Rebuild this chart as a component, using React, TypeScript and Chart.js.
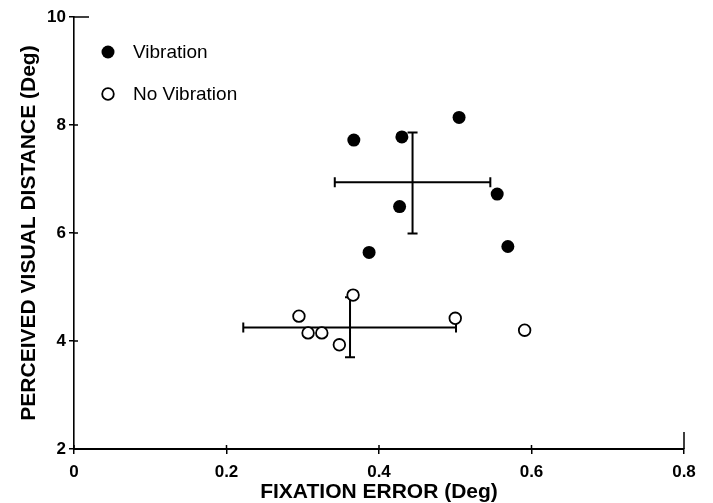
import React, { useEffect, useRef } from 'react';
import { Chart, registerables } from 'chart.js';

Chart.register(...registerables);

// ---- data ----
const seriesLabels = ['Vibration', 'No Vibration'];
const vibrationX = [0.367, 0.43, 0.505, 0.555, 0.427, 0.387, 0.569];
const vibrationY = [7.72, 7.78, 8.14, 6.72, 6.49, 5.64, 5.75];
const noVibrationX = [0.295, 0.307, 0.325, 0.348, 0.366, 0.5, 0.591];
const noVibrationY = [4.46, 4.15, 4.15, 3.93, 4.85, 4.42, 4.2];
// group means with error bars: [Vibration, No Vibration]
const meanX = [0.444, 0.362];
const meanY = [6.94, 4.25];
const xErrLow = [0.342, 0.222];
const xErrHigh = [0.546, 0.501];
const yErrLow = [5.99, 3.7];
const yErrHigh = [7.86, 4.81];
const xTickLabels = ['0', '0.2', '0.4', '0.6', '0.8'];
const yTickLabels = ['2', '4', '6', '8', '10'];
const xTitle = 'FIXATION ERROR (Deg)';
const yTitle = 'PERCEIVED VISUAL DISTANCE (Deg)';

const FONT = '"Liberation Sans", Arial, Helvetica, sans-serif';

const errorBarPlugin = {
  id: 'errorBars',
  beforeDatasetsDraw(chart: any) {
    const { ctx, scales } = chart;
    const xs = scales.x;
    const ys = scales.y;
    const cap = 5;
    ctx.save();
    ctx.strokeStyle = '#000';
    ctx.lineWidth = 2;
    for (let i = 0; i < meanX.length; i++) {
      const cx = xs.getPixelForValue(meanX[i]);
      const cy = ys.getPixelForValue(meanY[i]);
      const x1 = xs.getPixelForValue(xErrLow[i]);
      const x2 = xs.getPixelForValue(xErrHigh[i]);
      const y1 = ys.getPixelForValue(yErrLow[i]);
      const y2 = ys.getPixelForValue(yErrHigh[i]);
      ctx.beginPath();
      ctx.moveTo(x1, cy);
      ctx.lineTo(x2, cy);
      ctx.moveTo(x1, cy - cap);
      ctx.lineTo(x1, cy + cap);
      ctx.moveTo(x2, cy - cap);
      ctx.lineTo(x2, cy + cap);
      ctx.moveTo(cx, y1);
      ctx.lineTo(cx, y2);
      ctx.moveTo(cx - cap, y1);
      ctx.lineTo(cx + cap, y1);
      ctx.moveTo(cx - cap, y2);
      ctx.lineTo(cx + cap, y2);
      ctx.stroke();
    }
    ctx.restore();
  },
};

const axisExtrasPlugin = {
  id: 'axisExtras',
  afterDraw(chart: any) {
    const { ctx, scales, chartArea } = chart;
    const xs = scales.x;
    const ys = scales.y;
    ctx.save();
    ctx.strokeStyle = '#000';
    ctx.lineWidth = 1.5;
    ctx.beginPath();
    // inner halves of the tick marks
    ys.ticks.forEach((t: any) => {
      const y = ys.getPixelForValue(t.value);
      const len = t.value === ys.max ? 15 : 4;
      ctx.moveTo(chartArea.left, y);
      ctx.lineTo(chartArea.left + len, y);
    });
    xs.ticks.forEach((t: any) => {
      const x = xs.getPixelForValue(t.value);
      const len = t.value === xs.max ? 17 : 4;
      ctx.moveTo(x, chartArea.bottom);
      ctx.lineTo(x, chartArea.bottom - len);
    });
    ctx.stroke();
    ctx.restore();
  },
};

const legendPlugin = {
  id: 'insideLegend',
  afterDatasetsDraw(chart: any) {
    const { ctx, chartArea } = chart;
    const ds = chart.data.datasets;
    ctx.save();
    ctx.font = `19px ${FONT}`;
    ctx.textBaseline = 'middle';
    ctx.textAlign = 'left';
    ds.forEach((d: any, i: number) => {
      const cx = chartArea.left + 34;
      const cy = chartArea.top + 35 + i * 42;
      ctx.beginPath();
      ctx.arc(cx, cy, d.pointRadius, 0, Math.PI * 2);
      ctx.fillStyle = d.backgroundColor;
      ctx.fill();
      if (d.borderWidth) {
        ctx.lineWidth = d.borderWidth;
        ctx.strokeStyle = d.borderColor;
        ctx.stroke();
      }
      ctx.fillStyle = '#000';
      ctx.fillText(d.label, cx + 25, cy + 1);
    });
    ctx.restore();
  },
};

export default function App() {
  const canvasRef = useRef<HTMLCanvasElement | null>(null);

  useEffect(() => {
    document.body.style.margin = '0';
    const canvas = canvasRef.current;
    if (!canvas) return;
    const chart = new Chart(canvas, {
      type: 'scatter',
      data: {
        datasets: [
          {
            label: seriesLabels[0],
            data: vibrationX.map((x, i) => ({ x, y: vibrationY[i] })),
            backgroundColor: '#000',
            borderColor: '#000',
            borderWidth: 0,
            pointRadius: 6.5,
            pointHoverRadius: 6.5,
          },
          {
            label: seriesLabels[1],
            data: noVibrationX.map((x, i) => ({ x, y: noVibrationY[i] })),
            backgroundColor: '#fff',
            borderColor: '#000',
            borderWidth: 1.8,
            pointRadius: 5.8,
            pointHoverRadius: 5.8,
          },
        ],
      },
      options: {
        responsive: false,
        animation: false,
        devicePixelRatio: 1,
        layout: { padding: { top: 17, right: 29, left: 0, bottom: 0 } },
        plugins: {
          legend: { display: false },
          tooltip: { enabled: false },
        },
        scales: {
          x: {
            type: 'linear',
            min: 0,
            max: 0.8,
            afterFit: (s: any) => {
              s.height = 54;
            },
            ticks: {
              stepSize: 0.2,
              color: '#000',
              padding: 8,
              maxRotation: 0,
              font: { family: FONT, size: 17, weight: 'bold' },
              callback: (_v: any, i: number) => xTickLabels[i],
            },
            grid: {
              display: true,
              drawOnChartArea: false,
              drawTicks: true,
              tickLength: 5,
              color: '#000',
              lineWidth: 1.5,
            },
            border: { display: true, color: '#000', width: 2 },
            title: {
              display: true,
              text: xTitle,
              color: '#000',
              font: { family: FONT, size: 21, weight: 'bold', lineHeight: 1 },
              padding: { top: 0, bottom: 0 },
            },
          },
          y: {
            type: 'linear',
            min: 2,
            max: 10,
            afterFit: (s: any) => {
              s.width = 74;
            },
            ticks: {
              stepSize: 2,
              color: '#000',
              padding: 3,
              font: { family: FONT, size: 17, weight: 'bold' },
              callback: (_v: any, i: number) => yTickLabels[i],
            },
            grid: {
              display: true,
              drawOnChartArea: false,
              drawTicks: true,
              tickLength: 5,
              color: '#000',
              lineWidth: 1.5,
            },
            border: { display: true, color: '#000', width: 1.6 },
            title: {
              display: true,
              text: yTitle,
              color: '#000',
              font: { family: FONT, size: 21, weight: 'bold', lineHeight: 1 },
              padding: { top: 19, bottom: 0 },
            },
          },
        },
      },
      plugins: [errorBarPlugin, axisExtrasPlugin, legendPlugin],
    } as any);
    return () => {
      chart.destroy();
    };
  }, []);

  return (
    <div style={{ position: 'relative', width: 713, height: 503, background: '#fff' }}>
      <canvas ref={canvasRef} width={713} height={503} style={{ display: 'block', width: 713, height: 503 }} />
    </div>
  );
}
